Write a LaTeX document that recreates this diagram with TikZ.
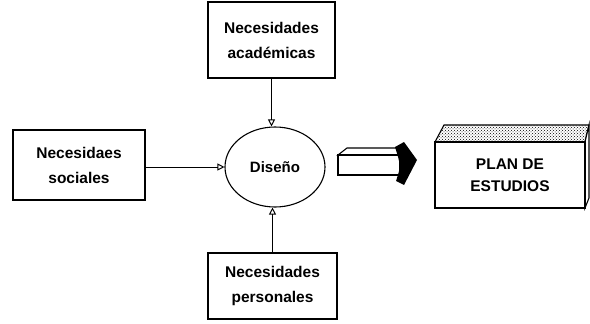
\documentclass[tikz,border=0pt]{standalone}
\usepackage{fontspec}
\setmainfont{Liberation Sans}
\usetikzlibrary{arrows.meta,shapes.geometric,patterns}
\begin{document}
\begin{tikzpicture}[x=1pt,y=-1pt,
  box/.style={draw,line width=1.1pt,inner sep=0pt,align=center,font=\bfseries\fontsize{15.5}{25}\selectfont},
  conn/.style={line width=1pt,-{Triangle[open,length=7pt,width=7pt]}}]
\useasboundingbox (0,0) rectangle (590,324);
\node[box,minimum width=127pt,minimum height=76pt] (acad) at (271.5,40) {Necesidades\\académicas};
\node[box,minimum width=132pt,minimum height=70pt] (soc) at (79,165) {Necesidaes\\sociales};
\node[box,minimum width=129pt,minimum height=66pt] (pers) at (272.5,286) {Necesidades\\personales};
\node[draw,ellipse,line width=1.1pt,minimum width=100pt,minimum height=80pt,font=\bfseries\fontsize{15}{18}\selectfont] (dis) at (275,167) {Diseño};
\draw[conn] (acad.south) -- (acad.south |- dis.north);
\draw[conn] (soc.east |- dis.west) -- (dis.west);
\draw[conn] (pers.north) -- (pers.north |- dis.south);
% block arrow
\draw[line width=1.1pt,fill=white] (338,155) -- (347,148) -- (400,148) -- (400,155) -- cycle;
\draw[line width=1.1pt,fill=white] (338,155) rectangle (400,175);
\fill (395,147) -- (404,142) -- (417,160) -- (404,185) -- (396,181) .. controls (401,166) .. cycle;
% 3D plan box
\draw[line width=1.1pt,pattern=crosshatch dots] (435,142) -- (444,125) -- (589,125) -- (585,142) -- cycle;
\draw[line width=1.1pt,fill=white] (585,142) -- (589,125) -- (589,198) -- (585,208) -- cycle;
\node[draw,line width=1.1pt,minimum width=150pt,minimum height=66pt,inner sep=0pt,align=center,font=\bfseries\fontsize{15.5}{22}\selectfont] (plan) at (510,175) {PLAN DE\\ESTUDIOS};
\end{tikzpicture}
\end{document}
